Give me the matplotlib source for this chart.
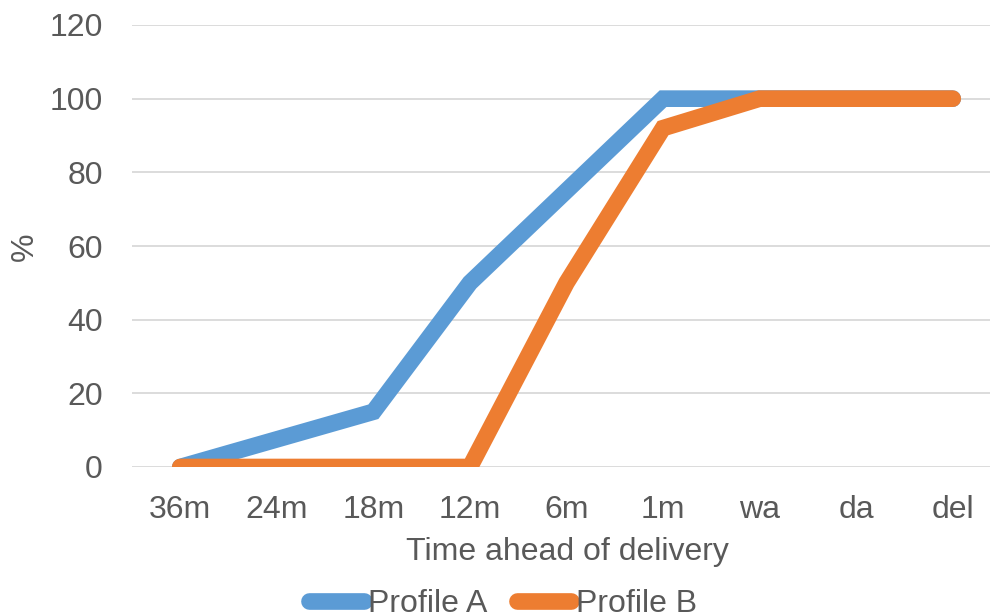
import matplotlib
matplotlib.use("Agg")
from matplotlib import pyplot as plt

# data
categories = ['36m', '24m', '18m', '12m', '6m', '1m', 'wa', 'da', 'del']
profile_a = [0, 7.5, 15, 50, 75, 100, 100, 100, 100]
profile_b = [0, 0, 0, 0, 50, 92, 100, 100, 100]
yticks = [0, 20, 40, 60, 80, 100, 120]

plt.rcParams['font.family'] = ['Liberation Sans', 'DejaVu Sans']
grey = '#595959'
fs = 23

fig = plt.figure(figsize=(9.9, 6.16), dpi=100)
# axes: left 132px, right ~1001px, top 25px, bottom 467px
ax = fig.add_axes([132 / 990, (616 - 467) / 616, (1001 - 132) / 990, (467 - 25) / 616])

x = list(range(len(categories)))
ax.plot(x, profile_a, color='#5b9bd5', lw=12, solid_capstyle='round',
        solid_joinstyle='miter', label='Profile A', zorder=3)
ax.plot(x, profile_b, color='#ed7d31', lw=12, solid_capstyle='round',
        solid_joinstyle='miter', label='Profile B', zorder=3)

ax.set_xlim(-0.5, len(categories) - 0.5)
ax.set_ylim(0, 120)
ax.set_yticks(yticks)
ax.set_xticks(x)
ax.set_xticklabels(categories)
ax.grid(axis='y', color='#d9d9d9', lw=1.3)
ax.set_axisbelow(True)
for s in ax.spines.values():
    s.set_visible(False)
ax.tick_params(axis='both', length=0, labelsize=fs, colors=grey)
ax.tick_params(axis='y', pad=21)
ax.tick_params(axis='x', pad=20)

ax.set_ylabel('%', fontsize=fs, color=grey)
ax.yaxis.set_label_coords(-(132 - 25) / (1001 - 132), (467 - 247) / (467 - 25))
ax.yaxis.label.set_va('center')
ax.set_xlabel('Time ahead of delivery', fontsize=fs, color=grey)
ax.xaxis.set_label_coords((567 - 132) / (1001 - 132), -(552 - 467) / (467 - 25))
ax.xaxis.label.set_va('center')

leg = fig.legend(loc='center', bbox_to_anchor=(503 / 990, 1 - 604 / 616), ncol=2,
                 frameon=False, fontsize=fs, handlelength=1.7, handletextpad=0.15,
                 columnspacing=0.9, labelcolor=grey)

fig.savefig('out.png', dpi=100)
